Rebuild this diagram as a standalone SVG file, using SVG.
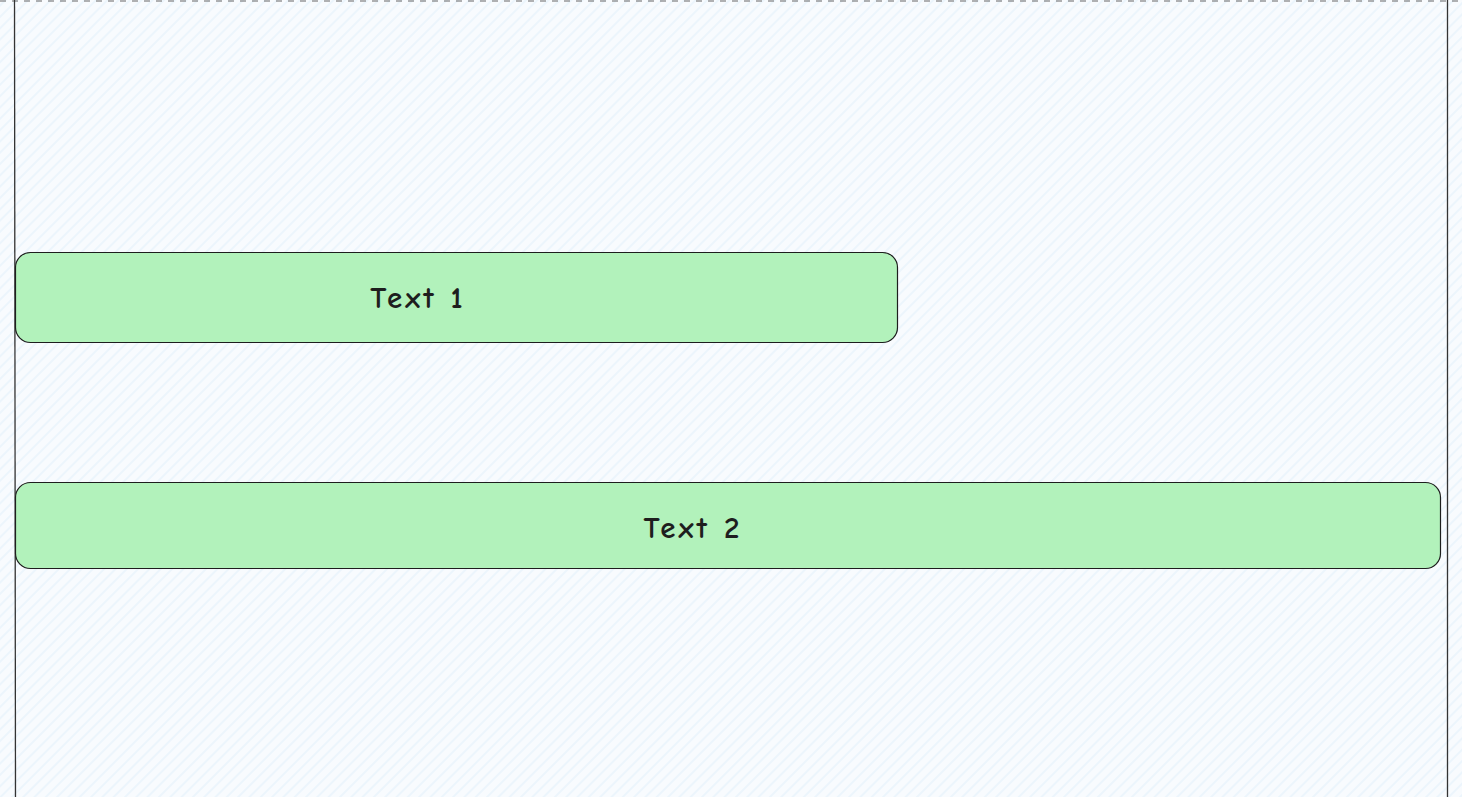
<svg xmlns="http://www.w3.org/2000/svg" width="1462" height="797" viewBox="0 0 1462 797">
<style>
.box{fill:#b2f2bb;stroke:#1e1e1e;stroke-width:1.2}
.lbl{font-family:"Comic Neue","Open Sans","Liberation Sans",sans-serif;font-size:31px;font-weight:bold;letter-spacing:3px;fill:#1e1e1e;text-anchor:middle;dominant-baseline:central}
.edge{stroke:#333;stroke-width:1.3;fill:none}
</style>
<defs>
<pattern id="hatch" width="8" height="8" patternUnits="userSpaceOnUse" patternTransform="rotate(-45)">
<rect width="8" height="8" fill="#f8fbfe"/>
<line x1="0" y1="4" x2="8" y2="4" stroke="#e8f3fc" stroke-width="1.5"/>
</pattern>
</defs>
<rect width="1462" height="797" fill="url(#hatch)"/>
<g id="frame">
<line x1="0" y1="1" x2="1462" y2="1" stroke="#666" stroke-width="1.2" stroke-dasharray="6,6"/>
<line class="edge" x1="14.5" y1="0" x2="15.5" y2="797"/>
<line class="edge" x1="1447.5" y1="0" x2="1447.5" y2="797"/>
</g>
<g id="node1">
<rect class="box" x="15.5" y="252.5" width="882" height="90" rx="15"/>
<text class="lbl" x="418" y="298">Text 1</text>
</g>
<g id="node2">
<rect class="box" x="15.5" y="482.5" width="1425" height="86" rx="15"/>
<text class="lbl" x="693" y="528">Text 2</text>
</g>
</svg>
